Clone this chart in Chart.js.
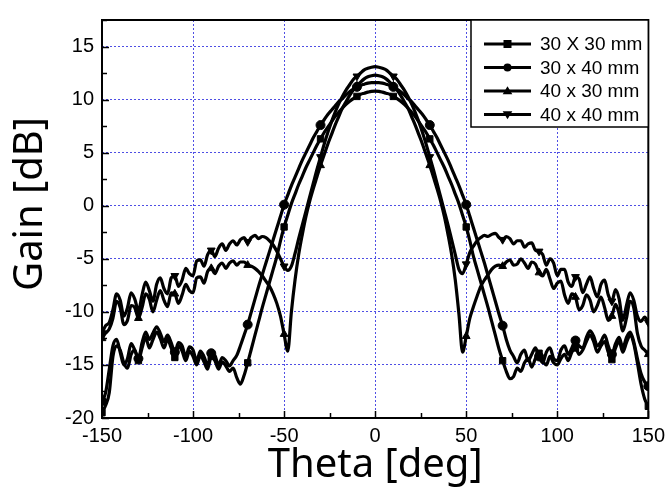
<!DOCTYPE html>
<html>
<head>
<meta charset="utf-8">
<script src="https://cdn.jsdelivr.net/npm/chart.js@4.4.1/dist/chart.umd.min.js"></script>
<style>
  html, body { margin: 0; padding: 0; background: #fff; }
  #wrap { width: 671px; height: 499px; }
</style>
</head>
<body>
<div id="wrap"><canvas id="gainChart"></canvas></div>
<script>
// angle grid, deg
const theta = [
  -150, -148, -146, -144, -142, -140, -138, -136, -134, -132,
  -130, -128, -126, -124, -122, -120, -118, -116, -114, -112,
  -110, -108, -106, -104, -102, -100, -98, -96, -94, -92,
  -90, -88, -86, -84, -82, -80, -78, -76, -74, -72,
  -70, -68, -66, -64, -62, -60, -58, -56, -54, -52,
  -50, -48, -46, -44, -42, -40, -38, -36, -34, -32,
  -30, -28, -26, -24, -22, -20, -18, -16, -14, -12,
  -10, -8, -6, -4, -2, 0, 2, 4, 6, 8,
  10, 12, 14, 16, 18, 20, 22, 24, 26, 28,
  30, 32, 34, 36, 38, 40, 42, 44, 46, 48,
  50, 52, 54, 56, 58, 60, 62, 64, 66, 68,
  70, 72, 74, 76, 78, 80, 82, 84, 86, 88,
  90, 92, 94, 96, 98, 100, 102, 104, 106, 108,
  110, 112, 114, 116, 118, 120, 122, 124, 126, 128,
  130, 132, 134, 136, 138, 140, 142, 144, 146, 148,
  150
];

// gain in dB, one array per patch size
const gain30x30 = [
  -19.5, -18.8, -17.6, -14.2, -13.2, -13.6, -14.8, -15.3, -14.0, -13.6,
  -14.6, -13.4, -12.4, -13.4, -12.6, -11.9, -12.5, -13.4, -12.6, -13.4,
  -14.3, -13.2, -13.7, -14.6, -13.7, -14.2, -15.0, -14.1, -14.7, -15.4,
  -14.2, -14.6, -15.4, -14.7, -15.1, -15.6, -15.3, -16.2, -16.8, -16.0,
  -14.8, -13.5, -12.2, -10.9, -9.6, -8.4, -7.2, -6.0, -4.8, -3.3,
  -2.0, -0.9, 0.2, 1.1, 2.0, 2.8, 3.6, 4.3, 5.0, 5.7,
  6.3, 6.9, 7.4, 7.9, 8.4, 8.8, 9.2, 9.55, 9.85, 10.1,
  10.3, 10.5, 10.6, 10.7, 10.78, 10.8, 10.78, 10.7, 10.6, 10.5,
  10.3, 10.1, 9.85, 9.55, 9.2, 8.8, 8.4, 7.9, 7.4, 6.9,
  6.3, 5.7, 5.0, 4.3, 3.6, 2.8, 2.0, 1.1, 0.2, -0.9,
  -2.0, -3.3, -4.8, -6.0, -7.2, -8.4, -9.6, -10.9, -12.2, -13.5,
  -14.6, -15.6, -16.3, -16.1, -15.3, -15.6, -14.8, -14.4, -15.2, -14.4,
  -13.9, -14.6, -15.0, -14.2, -14.8, -15.0, -14.4, -14.0, -14.6, -13.8,
  -13.4, -14.0, -13.6, -12.8, -12.2, -12.8, -13.8, -13.2, -12.8, -13.8,
  -14.5, -13.4, -12.8, -13.8, -12.9, -12.2, -13.0, -14.8, -16.8, -18.2,
  -18.9
];

const gain30x40 = [
  -18.4, -17.6, -15.4, -13.2, -12.6, -13.8, -15.0, -14.4, -13.0, -13.6,
  -14.4, -12.9, -11.9, -12.6, -12.0, -11.4, -12.0, -12.8, -12.2, -12.9,
  -13.8, -12.9, -13.2, -14.2, -13.3, -13.6, -14.6, -13.7, -14.2, -15.0,
  -13.9, -14.1, -15.0, -14.3, -14.6, -15.1, -14.6, -14.1, -13.2, -12.2,
  -11.2, -10.0, -8.8, -7.6, -6.5, -5.4, -4.3, -3.2, -2.1, -1.0,
  0.1, 1.0, 1.9, 2.7, 3.5, 4.3, 5.0, 5.7, 6.4, 7.0,
  7.6, 8.1, 8.6, 9.0, 9.4, 9.8, 10.1, 10.45, 10.75, 11.0,
  11.2, 11.35, 11.45, 11.55, 11.6, 11.6, 11.6, 11.55, 11.45, 11.35,
  11.2, 11.0, 10.75, 10.45, 10.1, 9.8, 9.4, 9.0, 8.6, 8.1,
  7.6, 7.0, 6.4, 5.7, 5.0, 4.3, 3.5, 2.7, 1.9, 1.0,
  0.1, -1.0, -2.1, -3.2, -4.3, -5.4, -6.6, -7.8, -9.0, -10.2,
  -11.3, -12.6, -13.6, -14.2, -14.8, -14.0, -13.6, -14.6, -14.0, -13.4,
  -14.2, -14.8, -13.8, -13.4, -14.4, -14.6, -13.6, -13.2, -14.0, -13.4,
  -12.7, -13.2, -13.4, -12.4, -11.8, -12.3, -13.2, -12.8, -12.2, -13.2,
  -14.0, -13.0, -12.4, -13.4, -12.4, -11.9, -12.8, -14.4, -15.8, -16.6,
  -17.0
];

const gain40x30 = [
  -12.5, -12.0, -11.6, -10.6, -9.0, -9.6, -11.2, -10.8, -9.4, -9.6,
  -10.6, -9.6, -8.3, -8.8, -10.0, -8.9, -8.0, -8.9, -9.5, -8.2,
  -8.3, -9.2, -8.4, -7.4, -8.0, -8.2, -6.8, -6.7, -7.3, -6.2,
  -5.9, -6.4, -5.7, -5.4, -5.9, -5.4, -5.2, -5.6, -5.3, -5.3,
  -5.6, -5.7, -5.9, -6.2, -6.6, -7.1, -7.6, -8.3, -9.2, -10.4,
  -12.1, -13.7, -10.0, -7.0, -4.6, -2.7, -1.0, 0.4, 1.6, 2.7,
  3.8, 4.8, 5.8, 6.7, 7.6, 8.4, 9.2, 9.8, 10.4, 10.9,
  11.3, 11.65, 11.95, 12.15, 12.25, 12.3, 12.25, 12.15, 11.95, 11.65,
  11.3, 10.9, 10.4, 9.8, 9.2, 8.4, 7.6, 6.7, 5.8, 4.8,
  3.8, 2.7, 1.6, 0.4, -1.0, -2.7, -4.6, -7.0, -10.2, -13.8,
  -12.3, -10.6, -9.5, -8.5, -7.6, -7.0, -6.5, -6.0, -5.7, -5.6,
  -5.7, -5.3, -5.1, -5.6, -5.5, -5.0, -5.4, -5.9, -5.3, -5.5,
  -6.3, -6.6, -6.0, -6.9, -7.8, -7.3, -7.1, -8.4, -9.2, -8.3,
  -8.6, -9.8, -9.4, -8.4, -8.9, -10.0, -9.4, -8.6, -9.6, -10.8,
  -10.4, -9.3, -10.2, -11.8, -10.6, -9.0, -9.6, -12.0, -13.2, -13.6,
  -14.0
];

const gain40x40 = [
  -12.0, -11.3, -11.0, -9.8, -8.3, -8.9, -10.4, -9.6, -8.2, -8.8,
  -9.9, -8.4, -7.2, -8.0, -9.0, -7.4, -6.8, -7.8, -8.3, -6.8,
  -6.6, -7.6, -7.0, -5.9, -6.4, -6.6, -5.2, -5.1, -5.7, -4.6,
  -4.2, -4.8, -4.0, -3.6, -4.2, -3.6, -3.3, -3.7, -3.2, -3.0,
  -3.4, -3.0, -2.8, -3.1, -2.9, -3.0, -3.3, -3.7, -4.3, -5.0,
  -5.7, -6.1, -5.7, -4.5, -3.1, -1.8, -0.5, 0.8, 2.1, 3.4,
  4.6, 5.8, 6.9, 7.9, 8.8, 9.6, 10.3, 10.9, 11.4, 11.9,
  12.2, 12.5, 12.8, 12.95, 13.05, 13.1, 13.05, 12.95, 12.8, 12.5,
  12.2, 11.9, 11.4, 10.9, 10.3, 9.6, 8.8, 7.9, 6.9, 5.8,
  4.6, 3.4, 2.1, 0.8, -0.5, -1.8, -3.2, -4.6, -6.0, -6.4,
  -5.5, -4.4, -3.8, -3.3, -3.0, -2.8, -2.9, -2.7, -2.6, -3.0,
  -3.2, -2.9, -3.1, -3.6, -3.3, -3.3, -3.9, -3.6, -3.5, -4.2,
  -4.3, -4.6, -5.6, -5.0, -5.4, -6.6, -6.0, -6.0, -7.2, -7.6,
  -6.7, -6.9, -8.2, -7.4, -6.7, -7.8, -8.6, -7.4, -7.0, -8.4,
  -9.0, -7.9, -8.8, -10.8, -9.4, -8.2, -8.9, -10.4, -10.9, -10.5,
  -11.0
];

const seriesNames = ["30 X 30 mm", "30 x 40 mm", "40 x 30 mm", "40 x 40 mm"];
const markerAngles = [-150, -130, -110, -90, -70, -50, -30, -10, 10, 30, 50, 70, 90, 110, 130, 150];

const gridBlue = "rgba(60, 60, 225, 0.9)";

function pts(arr) {
  return theta.map((t, i) => ({ x: t, y: arr[i] }));
}

function makeSet(label, arr, style, rot) {
  return {
    label: label,
    data: pts(arr),
    borderColor: "#000",
    backgroundColor: "#000",
    borderWidth: 3.2,
    cubicInterpolationMode: "monotone",
    pointStyle: style,
    pointRotation: rot,
    pointBorderWidth: 1,
    pointRadius: (c) => markerAngles.includes(theta[c.dataIndex]) ? 4.5 : 0,
    pointHoverRadius: 0,
  };
}

function drawMarker(ctx, style, rot, x, y, r) {
  ctx.beginPath();
  if (style === "rect") {
    ctx.rect(x - r, y - r, 2 * r, 2 * r);
  } else if (style === "circle") {
    ctx.arc(x, y, r, 0, Math.PI * 2);
  } else {
    const s = rot === 180 ? -1 : 1;
    ctx.moveTo(x, y - s * r * 1.2);
    ctx.lineTo(x + r * 1.2, y + s * r * 0.8);
    ctx.lineTo(x - r * 1.2, y + s * r * 0.8);
    ctx.closePath();
  }
  ctx.fill();
}

// frame, inward tick marks, y title and the boxed legend
const framePlugin = {
  id: "frame",
  afterDraw(chart) {
    const { ctx, chartArea: a, scales } = chart;
    const x = scales.x, y = scales.y;
    ctx.save();
    ctx.strokeStyle = "#000";
    ctx.lineWidth = 1.5;
    x.ticks.forEach((t) => {
      const px = Math.round(x.getPixelForValue(t.value)) + 0.5;
      const len = t.value % 50 === 0 ? 7 : 5;
      ctx.beginPath();
      ctx.moveTo(px, a.bottom);
      ctx.lineTo(px, a.bottom - len);
      ctx.stroke();
    });
    y.ticks.forEach((t) => {
      const py = Math.round(y.getPixelForValue(t.value)) + 0.5;
      const len = t.value % 5 === 0 ? 7 : 5;
      ctx.beginPath();
      ctx.moveTo(a.left, py);
      ctx.lineTo(a.left + len, py);
      ctx.stroke();
    });
    ctx.lineWidth = 2;
    ctx.strokeRect(a.left, a.top, a.right - a.left, a.bottom - a.top);

    // y axis title
    ctx.save();
    ctx.translate(31, 204);
    ctx.rotate(-Math.PI / 2);
    ctx.fillStyle = "#000";
    ctx.font = '40px "Noto Sans", sans-serif';
    ctx.textAlign = "center";
    ctx.textBaseline = "middle";
    ctx.fillText("Gain [dB]", 0, 0);
    ctx.restore();

    // legend
    const bx = 471, by = a.top, bw = a.right - bx, bh = 107;
    ctx.fillStyle = "#fff";
    ctx.fillRect(bx, by, bw, bh);
    ctx.lineWidth = 1.5;
    ctx.strokeRect(bx, by, bw, bh);
    ctx.font = '19px "Liberation Sans", Arial, sans-serif';
    ctx.textBaseline = "middle";
    chart.data.datasets.forEach((ds, i) => {
      const ly = by + 24 + i * 23.5;
      ctx.strokeStyle = "#000";
      ctx.lineWidth = 3;
      ctx.beginPath();
      ctx.moveTo(484, ly);
      ctx.lineTo(531, ly);
      ctx.stroke();
      ctx.fillStyle = "#000";
      drawMarker(ctx, ds.pointStyle, ds.pointRotation, 507.5, ly, 4);
      ctx.fillText(ds.label, 540, ly + 1);
    });
    ctx.restore();
  },
};

new Chart(document.getElementById("gainChart"), {
  type: "line",
  data: {
    datasets: [
      makeSet(seriesNames[0], gain30x30, "rect", 0),
      makeSet(seriesNames[1], gain30x40, "circle", 0),
      makeSet(seriesNames[2], gain40x30, "triangle", 0),
      makeSet(seriesNames[3], gain40x40, "triangle", 180),
    ],
  },
  options: {
    responsive: true,
    maintainAspectRatio: false,
    animation: false,
    layout: { padding: { left: 0, right: 21, top: 6, bottom: 0 } },
    plugins: { legend: { display: false }, tooltip: { enabled: false } },
    scales: {
      x: {
        type: "linear",
        min: -150,
        max: 150,
        afterFit: (s) => { s.height = 81; },
        ticks: {
          stepSize: 25,
          autoSkip: false,
          maxRotation: 0,
          padding: 6,
          color: "#000",
          font: { family: '"Liberation Sans", Arial, sans-serif', size: 20 },
          callback: (v) => (v % 50 === 0 ? v : ""),
        },
        grid: {
          drawTicks: false,
          lineWidth: 1,
          color: (c) => (c.tick && c.tick.value % 50 === 0 && Math.abs(c.tick.value) !== 150 ? gridBlue : "transparent"),
        },
        border: { display: false, dash: [2, 2] },
        title: {
          display: true,
          text: "Theta [deg]",
          color: "#000",
          font: { family: '"Noto Sans", sans-serif', size: 40, lineHeight: 1 },
          padding: { top: 0, bottom: 13 },
        },
      },
      y: {
        min: -20,
        max: 17.5,
        afterFit: (s) => { s.width = 102; },
        ticks: {
          stepSize: 2.5,
          autoSkip: false,
          padding: 8,
          color: "#000",
          font: { family: '"Liberation Sans", Arial, sans-serif', size: 20 },
          callback: (v) => (v % 5 === 0 ? v : ""),
        },
        grid: {
          drawTicks: false,
          lineWidth: 1,
          color: (c) => (c.tick && c.tick.value % 5 === 0 && c.tick.value !== -20 ? gridBlue : "transparent"),
        },
        border: { display: false, dash: [2, 2] },
        title: { display: false },
      },
    },
  },
  plugins: [framePlugin],
});
</script>
</body>
</html>
